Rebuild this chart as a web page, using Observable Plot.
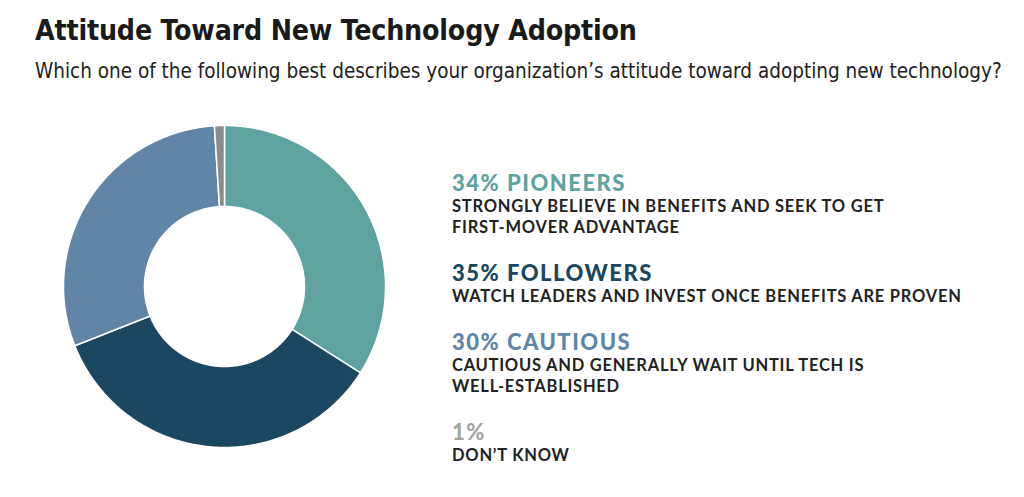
<!DOCTYPE html>
<html><head><meta charset="utf-8">
<script src="https://cdn.jsdelivr.net/npm/d3@7"></script>
<script src="https://cdn.jsdelivr.net/npm/@observablehq/plot@0.6"></script>
<style>
html,body{margin:0;padding:0;background:#fff;}
body{width:1024px;height:497px;overflow:hidden;position:relative;}
#title{position:absolute;left:35px;top:14px;font-family:"DejaVu Sans Condensed","Liberation Sans Narrow",sans-serif;font-weight:bold;font-size:28.3px;color:#1a1a1a;white-space:nowrap;letter-spacing:-0.2px;}
#subtitle{position:absolute;left:35px;top:59px;font-family:"DejaVu Sans Condensed","Liberation Sans Narrow",sans-serif;font-size:20.5px;color:#222;white-space:nowrap;}
#chart{position:absolute;left:54px;top:116px;}
#legend{position:absolute;left:452px;top:170px;font-family:Lato,"Noto Sans",sans-serif;}
.block{margin-bottom:22px;}
.head{font-weight:900;font-size:22px;line-height:26px;letter-spacing:1.5px;}
.body{font-weight:700;font-size:16.5px;line-height:21px;color:#222;letter-spacing:0.75px;}
</style></head>
<body>
<div id="title"></div>
<div id="subtitle"></div>
<div id="chart"></div>
<div id="legend"></div>
<script>
const titleText = "Attitude Toward New Technology Adoption";
const subtitleText = "Which one of the following best describes your organization’s attitude toward adopting new technology?";
const categories = ["Pioneers", "Followers", "Cautious", "Don't know"];
const shares = [34, 35, 30, 1];
const headLabels = ["PIONEERS", "FOLLOWERS", "CAUTIOUS", ""];
const descriptions = [
  ["STRONGLY BELIEVE IN BENEFITS AND SEEK TO GET", "FIRST-MOVER ADVANTAGE"],
  ["WATCH LEADERS AND INVEST ONCE BENEFITS ARE PROVEN"],
  ["CAUTIOUS AND GENERALLY WAIT UNTIL TECH IS", "WELL-ESTABLISHED"],
  ["DON’T KNOW"]
];
const sliceColors = ["#5fa3a0", "#1b4760", "#6185a7", "#8c8c8c"];
const headColors = ["#5fa3a0", "#1b4760", "#6185a7", "#a6a6a6"];

document.getElementById("title").textContent = titleText;
document.getElementById("subtitle").textContent = subtitleText;

const size = 340, R = 161, r0 = 80;
const data = categories.map((c, i) => ({cat: c, share: shares[i]}));
const arcs = d3.pie().sort(null).value(d => d.share)(data);
const pts = [];
for (const a of arcs) {
  const n = Math.max(2, Math.ceil((a.endAngle - a.startAngle) / 0.01) + 1);
  for (let k = 0; k < n; k++) {
    const t = a.startAngle + (a.endAngle - a.startAngle) * k / (n - 1);
    pts.push({cat: a.data.cat, x: R * Math.sin(t), y: R * Math.cos(t)});
  }
  for (let k = n - 1; k >= 0; k--) {
    const t = a.startAngle + (a.endAngle - a.startAngle) * k / (n - 1);
    pts.push({cat: a.data.cat, x: r0 * Math.sin(t), y: r0 * Math.cos(t)});
  }
}

const chart = Plot.plot({
  width: size, height: size, margin: 0,
  x: {domain: [-size/2, size/2], axis: null},
  y: {domain: [-size/2, size/2], axis: null},
  color: {domain: categories, range: sliceColors},
  marks: [
    Plot.line(pts, {x: "x", y: "y", z: "cat", fill: "cat", stroke: "white", strokeWidth: 1.5, curve: "linear-closed"})
  ]
});
document.getElementById("chart").appendChild(chart);

const legend = document.getElementById("legend");
categories.forEach((c, i) => {
  const b = document.createElement("div");
  b.className = "block";
  const h = document.createElement("div");
  h.className = "head";
  h.style.color = headColors[i];
  h.textContent = (shares[i] + "% " + headLabels[i]).trim();
  b.appendChild(h);
  descriptions[i].forEach(line => {
    const d = document.createElement("div");
    d.className = "body";
    d.textContent = line;
    b.appendChild(d);
  });
  legend.appendChild(b);
});
</script>
</body></html>
